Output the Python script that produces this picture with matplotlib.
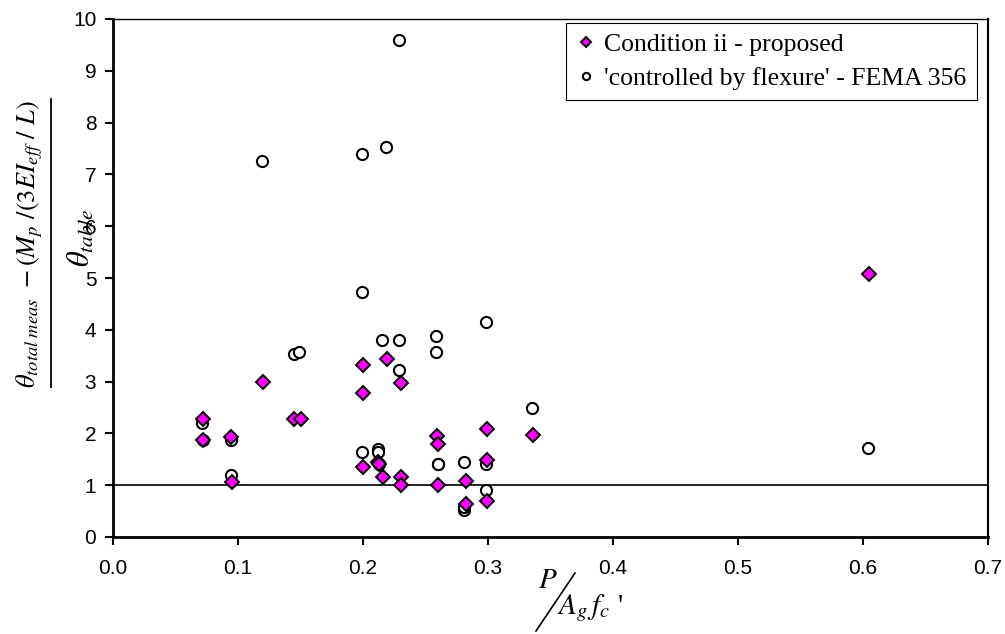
import numpy as np
import matplotlib
matplotlib.use('Agg')
from matplotlib import pyplot as plt
from matplotlib.lines import Line2D

# Condition ii - proposed (diamonds)
prop_x = [0.072, 0.072, 0.094, 0.095, 0.120, 0.145, 0.150, 0.200, 0.200, 0.200,
          0.219, 0.212, 0.213, 0.216, 0.230, 0.230, 0.230, 0.259, 0.260, 0.260,
          0.282, 0.282, 0.299, 0.299, 0.299, 0.336, 0.605]
prop_y = [2.28, 1.88, 1.94, 1.07, 3.00, 2.28, 2.28, 3.32, 2.78, 1.35,
          3.44, 1.45, 1.40, 1.15, 2.97, 1.16, 1.00, 1.95, 1.79, 1.00,
          1.08, 0.63, 2.09, 1.48, 0.70, 1.97, 5.07]

# 'controlled by flexure' - FEMA 356 (circles)
fema_x = [0.071, 0.072, 0.094, 0.094, 0.119, 0.145, 0.149, 0.199, 0.218, 0.229,
          0.199, 0.215, 0.229, 0.229, 0.258, 0.258, 0.298, 0.335, 0.199, 0.212,
          0.212, 0.213, 0.260, 0.260, 0.281, 0.298, 0.298, 0.281, 0.281, 0.604]
fema_y = [2.21, 1.87, 1.88, 1.19, 7.25, 3.54, 3.58, 7.40, 7.52, 9.60,
          4.73, 3.80, 3.80, 3.22, 3.88, 3.57, 4.15, 2.49, 1.64, 1.69,
          1.64, 1.40, 1.41, 1.40, 1.44, 1.41, 0.91, 0.52, 0.57, 1.72]

x_ticks = [0.0, 0.1, 0.2, 0.3, 0.4, 0.5, 0.6, 0.7]
y_ticks = list(range(0, 11))

plt.rcParams['font.family'] = ['Liberation Sans', 'DejaVu Sans']
plt.rcParams['mathtext.fontset'] = 'stix'

fig = plt.figure(figsize=(10.05, 6.34), dpi=100)
ax = fig.add_axes([113 / 1005, 1 - 537 / 634, (988 - 113) / 1005, (537 - 19) / 634])

ax.axhline(1.0, color='black', lw=1.2, zorder=1)

ax.plot(fema_x, fema_y, 'o', ls='none', ms=8, mfc='white', mec='black', mew=1.5,
        label="'controlled by flexure' - FEMA 356", zorder=3)
ax.plot(prop_x, prop_y, 'D', ls='none', ms=7.5, mfc='#ff00ff', mec='black', mew=1.4,
        label='Condition ii - proposed', zorder=4)

ax.set_xlim(0, 0.7)
ax.set_ylim(0, 10)
ax.set_xticks(x_ticks)
ax.set_xticklabels([f'{t:.1f}' for t in x_ticks])
ax.set_yticks(y_ticks)
ax.tick_params(direction='out', length=6, width=1.5, labelsize=15, colors='black', pad=6)
ax.tick_params(axis='x', pad=10)

for side in ['left', 'bottom']:
    ax.spines[side].set_linewidth(2.0)
ax.spines['top'].set_linewidth(1.0)
ax.spines['right'].set_linewidth(1.5)

h, l = ax.get_legend_handles_labels()
leg = ax.legend(h[::-1], l[::-1], loc='upper right',
                bbox_to_anchor=(977 / 1005, 1 - 23 / 634), bbox_transform=fig.transFigure,
                borderaxespad=0, fancybox=False, framealpha=1, edgecolor='black',
                markerscale=0.65, handlelength=0.8, handletextpad=0.3,
                prop={'family': 'Liberation Serif', 'size': 18.5}, labelspacing=0.4,
                borderpad=0.4)
leg.get_frame().set_linewidth(0.8)

# y label: numerator, bar, denominator
fig.text(30 / 1005, 1 - 244 / 634,
         r'$\theta_{total\ meas}\ -(M_p\ /(3EI_{eff}\ /\ L)$',
         rotation=90, ha='center', va='center', fontsize=19)
fig.add_artist(Line2D([51 / 1005, 51 / 1005], [1 - 99 / 634, 1 - 387 / 634],
                      color='black', lw=1.3, transform=fig.transFigure))
fig.text(82 / 1005, 1 - 238 / 634, r'$\theta_{table}$',
         rotation=90, ha='center', va='center', fontsize=22)

# x label: P / (Ag fc')
fig.text(538 / 1005, 1 - 588 / 634, r'$P$', fontsize=21, ha='left', va='baseline')
fig.add_artist(Line2D([536 / 1005, 575 / 1005], [1 - 631 / 634, 1 - 573 / 634],
                      color='black', lw=1.2, transform=fig.transFigure))
fig.text(557 / 1005, 1 - 614 / 634, r"$A_g\,f_c$ '", fontsize=21, ha='left', va='baseline',
         family='Liberation Serif')

fig.savefig('out.png', dpi=100)
